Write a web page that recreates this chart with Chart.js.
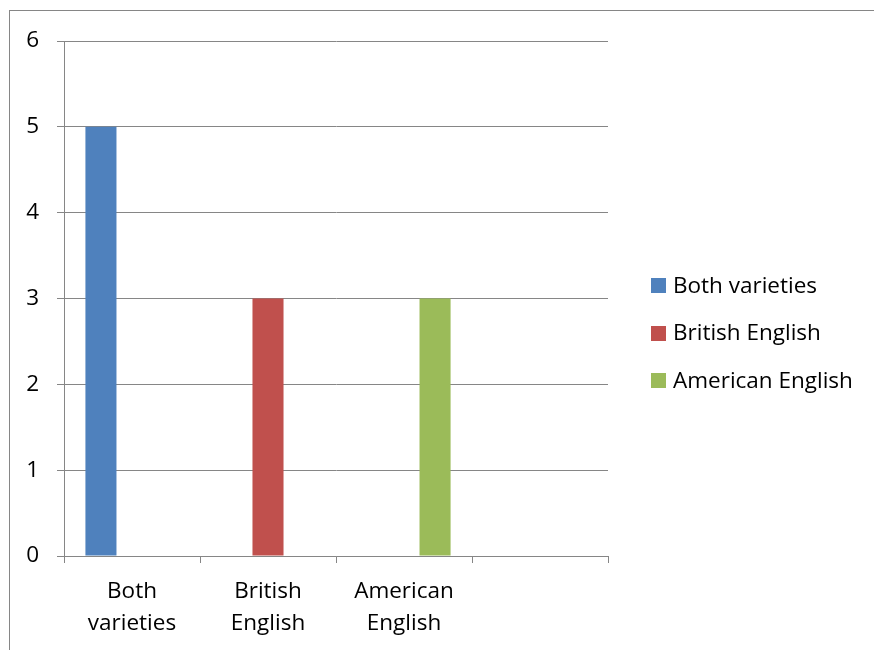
<!DOCTYPE html>
<html>
<head>
<meta charset="utf-8">
<script src="https://cdn.jsdelivr.net/npm/chart.js@4"></script>
<style>
  html, body { margin: 0; padding: 0; background: #fff; }
  #wrap { width: 874px; height: 650px; position: relative; }
</style>
</head>
<body>
<div id="wrap"><canvas id="varietyChart" width="874" height="650"></canvas></div>
<script>
// categories on the x axis (the last slot is left blank)
const categories = [['Both', 'varieties'], ['British', 'English'], ['American', 'English'], ''];
const seriesNames = ['Both varieties', 'British English', 'American English'];
const bothValues = [5, null, null, null];
const britishValues = [null, 3, null, null];
const americanValues = [null, null, 3, null];
const seriesColors = ['#4F81BD', '#C0504D', '#9BBB59'];

const FONT = '"Open Sans", "Noto Sans", sans-serif';
const FONT_SIZE = 22.5;
const GRID = '#868686';

// frame around the whole chart + legend on the right
const framePlugin = {
    id: 'frame',
    beforeDraw(chart) {
        const ctx = chart.ctx;
        ctx.save();
        ctx.strokeStyle = GRID;
        ctx.lineWidth = 1;
        ctx.strokeRect(9.5, 10.5, 1000, 1000);
        ctx.restore();
    },
    afterDraw(chart) {
        const ctx = chart.ctx;
        ctx.save();
        ctx.font = FONT_SIZE + 'px ' + FONT;
        ctx.textBaseline = 'middle';
        chart.data.datasets.forEach((ds, i) => {
            const y = 285.5 + i * 47.5;
            ctx.fillStyle = ds.backgroundColor;
            ctx.fillRect(651, Math.round(y - 7.5), 15, 15);
            ctx.fillStyle = '#000';
            ctx.fillText(ds.label, 673, y + 1);
        });
        ctx.restore();
    }
};

const datasets = [bothValues, britishValues, americanValues].map((values, i) => ({
    label: seriesNames[i],
    data: values,
    backgroundColor: seriesColors[i],
    borderWidth: 0,
    categoryPercentage: 0.685,
    barPercentage: 1
}));

new Chart(document.getElementById('varietyChart'), {
    type: 'bar',
    data: { labels: categories, datasets: datasets },
    plugins: [framePlugin],
    options: {
        responsive: false,
        animation: false,
        layout: { padding: { top: 41, right: 266, bottom: 0, left: 0 } },
        plugins: {
            legend: { display: false },
            tooltip: { enabled: false }
        },
        scales: {
            x: {
                afterFit(axis) { axis.height = 94; },
                grid: { drawOnChartArea: false, color: GRID, tickLength: 7, offset: true },
                border: { color: GRID },
                ticks: {
                    color: '#000',
                    padding: 13,
                    maxRotation: 0,
                    autoSkip: false,
                    font: { family: FONT, size: FONT_SIZE, lineHeight: 32 / FONT_SIZE }
                }
            },
            y: {
                min: 0,
                max: 6,
                afterFit(axis) { axis.width = 64; },
                grid: { color: GRID, tickLength: 7 },
                border: { color: GRID },
                ticks: {
                    stepSize: 1,
                    color: '#000',
                    padding: 18,
                    font: { family: FONT, size: FONT_SIZE }
                }
            }
        }
    }
});
</script>
</body>
</html>
